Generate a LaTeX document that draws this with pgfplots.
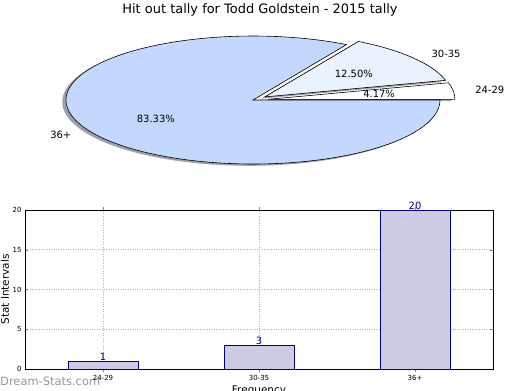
\documentclass[border=0pt]{standalone}
\usepackage{pgfplots}
\pgfplotsset{compat=1.18}
\usepackage{fontspec}
\setmainfont{DejaVu Sans}
\definecolor{cBig}{RGB}{196,216,255}
\definecolor{cMid}{RGB}{234,241,255}
\definecolor{cSmall}{RGB}{255,255,255}
\definecolor{sBig}{RGB}{59,65,77}
\definecolor{sMid}{RGB}{70,72,77}
\definecolor{sSmall}{RGB}{77,77,77}
\definecolor{barfill}{RGB}{204,204,229}
\definecolor{navyc}{RGB}{0,0,128}
\definecolor{wmark}{RGB}{150,150,150}

% data: hit outs per interval
\def\va{1}  % 24-29
\def\vb{3}  % 30-35
\def\vc{20} % 36+
\pgfmathsetmacro\tot{\va+\vb+\vc}
\pgfmathsetmacro\aA{360*\va/\tot}
\pgfmathsetmacro\aB{\aA+360*\vb/\tot}
\pgfmathsetmacro\mA{\aA/2}
\pgfmathsetmacro\mB{(\aA+\aB)/2}
\pgfmathsetmacro\mC{(\aB+360)/2}
\def\ex{0.08}
\pgfmathsetmacro\cxA{\ex*cos(\mA)}
\pgfmathsetmacro\cyA{\ex*sin(\mA)}
\pgfmathsetmacro\cxB{\ex*cos(\mB)}
\pgfmathsetmacro\cyB{\ex*sin(\mB)}
\def\shx{-0.02}
\def\shy{-0.028}
\pgfmathsetmacro\sxA{\cxA+\shx}
\pgfmathsetmacro\syA{\cyA+\shy}
\pgfmathsetmacro\sxB{\cxB+\shx}
\pgfmathsetmacro\syB{\cyB+\shy}
% label positions
\pgfmathsetmacro\lxA{\cxA+1.1*cos(\mA)}
\pgfmathsetmacro\lyA{\cyA+1.1*sin(\mA)}
\pgfmathsetmacro\pxA{\cxA+0.6*cos(\mA)}
\pgfmathsetmacro\pyA{\cyA+0.6*sin(\mA)}
\pgfmathsetmacro\lxB{\cxB+1.1*cos(\mB)}
\pgfmathsetmacro\lyB{\cyB+1.1*sin(\mB)}
\pgfmathsetmacro\pxB{\cxB+0.6*cos(\mB)}
\pgfmathsetmacro\pyB{\cyB+0.6*sin(\mB)}
\pgfmathsetmacro\lxC{1.1*cos(\mC)}
\pgfmathsetmacro\lyC{1.1*sin(\mC)}
\pgfmathsetmacro\pxC{0.6*cos(\mC)}
\pgfmathsetmacro\pyC{0.6*sin(\mC)}

\begin{document}
\begin{tikzpicture}[x=1bp,y=1bp]
\path[use as bounding box] (0,0) rectangle (520,-390);
\node[font=\fontsize{13}{15}\selectfont] at (260,-10) {Hit out tally for Todd Goldstein - 2015 tally};

\begin{axis}[at={(253bp,-100bp)}, anchor=center, scale only axis,
  width=374bp, height=128bp, xmin=-1, xmax=1, ymin=-1, ymax=1,
  hide axis, clip=false,
  every node/.style={font=\fontsize{10.5}{12}\selectfont}]
  % shadows
  \addplot[draw=none, fill=sBig, fill opacity=0.5, domain=\aB:360, samples=120]
    ({\shx+cos(x)},{\shy+sin(x)}) -- (axis cs:\shx,\shy) -- cycle;
  \addplot[draw=none, fill=sMid, fill opacity=0.5, domain=\aA:\aB, samples=40]
    ({\sxB+cos(x)},{\syB+sin(x)}) -- (axis cs:\sxB,\syB) -- cycle;
  \addplot[draw=none, fill=sSmall, fill opacity=0.5, domain=0:\aA, samples=20]
    ({\sxA+cos(x)},{\syA+sin(x)}) -- (axis cs:\sxA,\syA) -- cycle;
  % wedges
  \addplot[draw=black, line width=0.6pt, fill=cSmall, domain=0:\aA, samples=20]
    ({\cxA+cos(x)},{\cyA+sin(x)}) -- (axis cs:\cxA,\cyA) -- cycle;
  \addplot[draw=black, line width=0.6pt, fill=cMid, domain=\aA:\aB, samples=40]
    ({\cxB+cos(x)},{\cyB+sin(x)}) -- (axis cs:\cxB,\cyB) -- cycle;
  \addplot[draw=black, line width=0.6pt, fill=cBig, domain=\aB:360, samples=120]
    ({cos(x)},{sin(x)}) -- (axis cs:0,0) -- cycle;
  % labels
  \node[anchor=west] at (axis cs:\lxA,\lyA) {24-29};
  \node at (axis cs:\pxA,\pyA) {4.17\%};
  \node[anchor=west] at (axis cs:\lxB,\lyB) {30-35};
  \node at (axis cs:\pxB,\pyB) {12.50\%};
  \node[anchor=east] at (axis cs:\lxC,\lyC) {36+};
  \node at (axis cs:\pxC,\pyC) {83.33\%};
\end{axis}

\node[anchor=west, text=wmark, font=\fontsize{11.5}{13}\selectfont, inner sep=0pt] at (0,-381) {Dream-Stats.com};

\begin{axis}[at={(25bp,-369bp)}, anchor=south west, scale only axis,
  width=468bp, height=159bp,
  xmin=-0.5, xmax=2.5, ymin=0, ymax=20,
  xtick={0,1,2}, xticklabels={24-29,30-35,36+},
  ytick={0,5,10,15,20},
  /pgf/number format/assume math mode=true,
  tick label style={font=\fontsize{7}{8}\selectfont},
  tick align=inside, major tick length=3bp,
  grid=major, grid style={dotted, gray!60, line width=0.7pt},
  axis line style={black, line width=0.6pt},
  ybar, bar width=70bp, bar shift=0pt,
  nodes near coords,
  nodes near coords style={font=\fontsize{10}{11}\selectfont, text=navyc, inner sep=0.5bp},
  every axis y label/.style={at={(axis description cs:-0.043,0.5)}, rotate=90, anchor=center, font=\fontsize{10.5}{12}\selectfont},
  every axis x label/.style={at={(axis description cs:0.5,0)}, anchor=north, yshift=-13bp, font=\fontsize{10.5}{12}\selectfont},
  ylabel={Stat Intervals}, xlabel={Frequency}]
  \addplot[draw=navyc, fill=barfill, line width=0.7pt] coordinates {(0,1) (1,3) (2,20)};
\end{axis}
\end{tikzpicture}
\end{document}
